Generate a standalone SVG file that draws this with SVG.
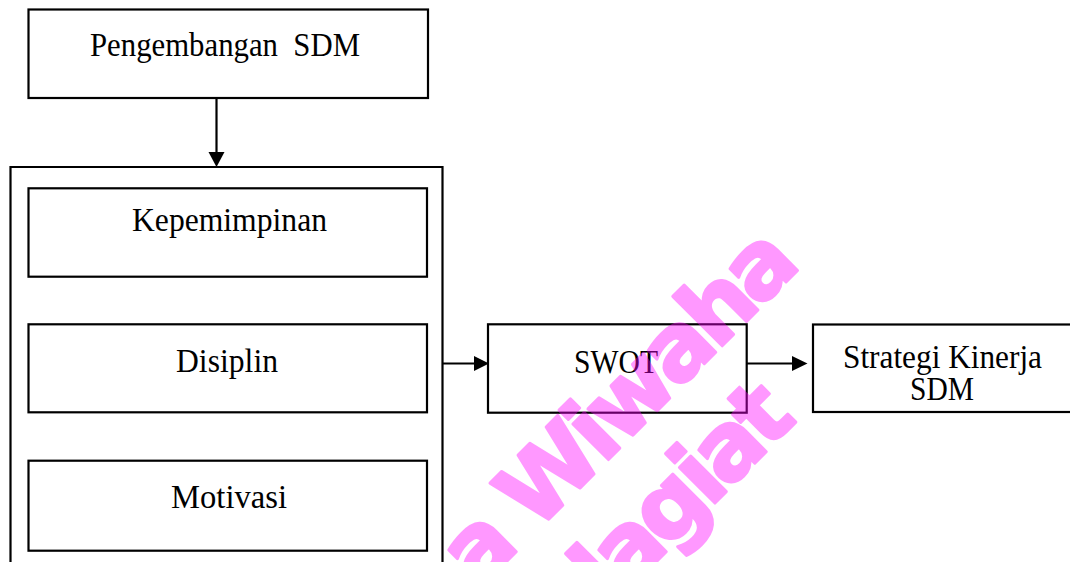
<svg xmlns="http://www.w3.org/2000/svg" width="1070" height="562" viewBox="0 0 1070 562">
  <defs>
    <style>
      .box { fill: #ffffff; stroke: #000000; stroke-width: 2.2; }
      .frame { fill: none; stroke: #000000; stroke-width: 2.2; }
      .line { fill: none; stroke: #000000; stroke-width: 2.2; }
      .head { fill: #000000; stroke: none; }
      .lbl { font-family: "Liberation Serif", "Times New Roman", serif; font-size: 34px; fill: #000000; white-space: pre; }
      .mark { font-family: "DejaVu Sans", Verdana, sans-serif; font-weight: bold; font-size: 92px; letter-spacing: -6px; fill: #ff00ff; stroke: #ff00ff; stroke-width: 3; stroke-linejoin: round; }
    </style>
  </defs>
  <rect width="1070" height="562" fill="#ffffff"/>

  <!-- top node -->
  <g id="node-pengembangan">
    <rect class="box" x="28.5" y="9.5" width="399.5" height="88.5"/>
    <text class="lbl" x="90" y="56" textLength="270" lengthAdjust="spacingAndGlyphs">Pengembangan  SDM</text>
  </g>

  <!-- container holding the three factors -->
  <g id="node-faktor">
    <path class="frame" d="M10.5,580 V167 H442.5 V580"/>
  </g>
  <g id="node-kepemimpinan">
    <rect class="box" x="28.5" y="188.3" width="398.5" height="88.4"/>
    <text class="lbl" x="132" y="231" textLength="195" lengthAdjust="spacingAndGlyphs">Kepemimpinan</text>
  </g>
  <g id="node-disiplin">
    <rect class="box" x="28.5" y="324.3" width="398.5" height="88"/>
    <text class="lbl" x="176" y="372" textLength="102" lengthAdjust="spacingAndGlyphs">Disiplin</text>
  </g>
  <g id="node-motivasi">
    <rect class="box" x="28.5" y="460.7" width="398.5" height="90"/>
    <text class="lbl" x="171" y="508" textLength="116" lengthAdjust="spacingAndGlyphs">Motivasi</text>
  </g>

  <g id="node-swot">
    <rect class="box" x="488" y="324.3" width="258.7" height="88.4"/>
    <text class="lbl" x="574" y="373" textLength="84" lengthAdjust="spacingAndGlyphs">SWOT</text>
  </g>

  <g id="node-strategi">
    <rect class="box" x="813" y="324.5" width="280" height="87.5"/>
    <text class="lbl" x="843" y="368" textLength="199" lengthAdjust="spacingAndGlyphs">Strategi Kinerja</text>
    <text class="lbl" x="910" y="400" textLength="64" lengthAdjust="spacingAndGlyphs">SDM</text>
  </g>

  <!-- connectors -->
  <g id="connectors">
    <line class="line" x1="216.5" y1="98" x2="216.5" y2="154"/>
    <polygon class="head" points="208.5,152 224.5,152 216.5,167"/>
    <line class="line" x1="442.5" y1="363.5" x2="476" y2="363.5"/>
    <polygon class="head" points="474,356 489,363.5 474,371"/>
    <line class="line" x1="746.7" y1="363.5" x2="794" y2="363.5"/>
    <polygon class="head" points="792,356 807.5,363.5 792,371"/>
  </g>

  <!-- watermark, translucent so the lines below show through -->
  <g id="watermark" opacity="0.4">
    <text class="mark" transform="translate(477.5,590.5) rotate(-45)">a Wiwaha</text>
    <text class="mark" transform="translate(609.5,608.5) rotate(-45)">lagiat</text>
  </g>
</svg>
